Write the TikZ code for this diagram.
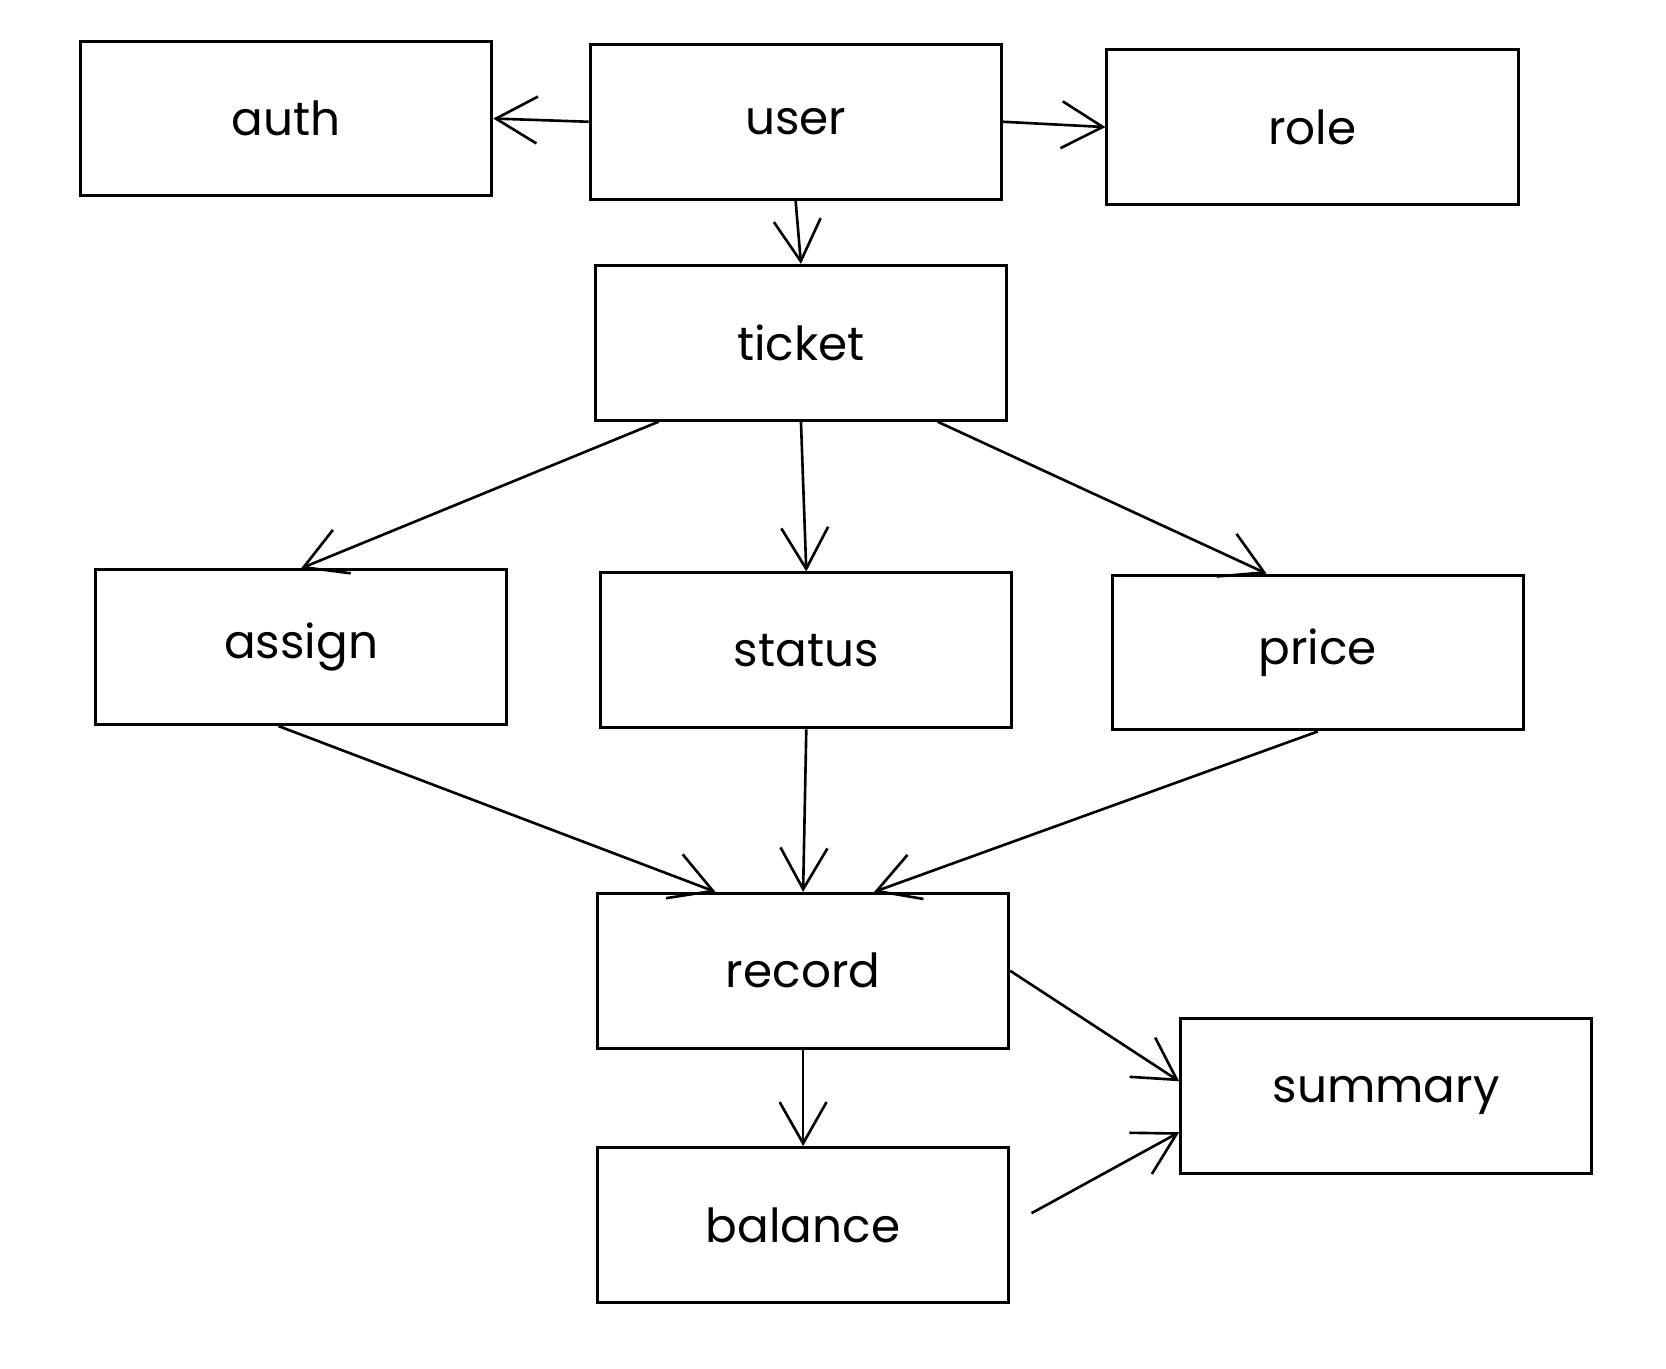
\documentclass[tikz,border=0pt]{standalone}
\usepackage{fontspec}
\setmainfont{Poppins}
\usetikzlibrary{
  positioning
  , calc
  , arrows.meta
}
\begin{document}
\begin{tikzpicture}[x=0.02cm, y=-0.02cm]
      \tikzstyle{box template}=[rectangle,draw=black,line width=1.6pt,minimum width=7.7cm,minimum height=2.9cm,inner sep=0pt,font=\fontsize{25}{30}\selectfont];
      \tikzstyle{link}=[draw=black,line width=1.4pt,-{Straight Barb[length=22pt,width=25pt,line width=1.4pt]}];

      \useasboundingbox (0,0) rectangle (1560,1281);

      % top row
      \node [box template] (auth) at (268,111) {auth};
      \node [box template] (user) at (745,114) {user};
      \node [box template] (role) at (1229,119) {role};

      \node [box template] (ticket) at (750,321) {ticket};

      % middle row
      \node [box template] (assign) at (282,606) {assign};
      \node [box template] (status) at (755,609) {status};
      \node [box template] (price) at (1234,611) {price};

      \node [box template] (record) at (752,909) {record};
      \node [box template] (balance) at (752,1147) {balance};
      \node [box template] (summary) at (1298,1026) {summary};

      \draw [link] (user.west) -- (auth.east);
      \draw [link] (user.east) -- (role.west);
      \draw [link] (user.south) -- (ticket.north);

      \draw [link] (ticket.209) -- (assign.north);
      \draw [link] (ticket.south) -- (status.north);
      \draw [link] (ticket.330) -- (price.123);

      \draw [link] (assign.254) -- (record.138);
      \draw [link] (status.south) -- (record.north);
      \draw [link] (price.south) -- (record.48);

      \draw [link] (record.east) -- (summary.176);
      \draw [link] (record.south) -- (balance.north);
      \draw [link, shorten <=13pt] (balance.east) -- (summary.190);

    \end{tikzpicture}
\end{document}
